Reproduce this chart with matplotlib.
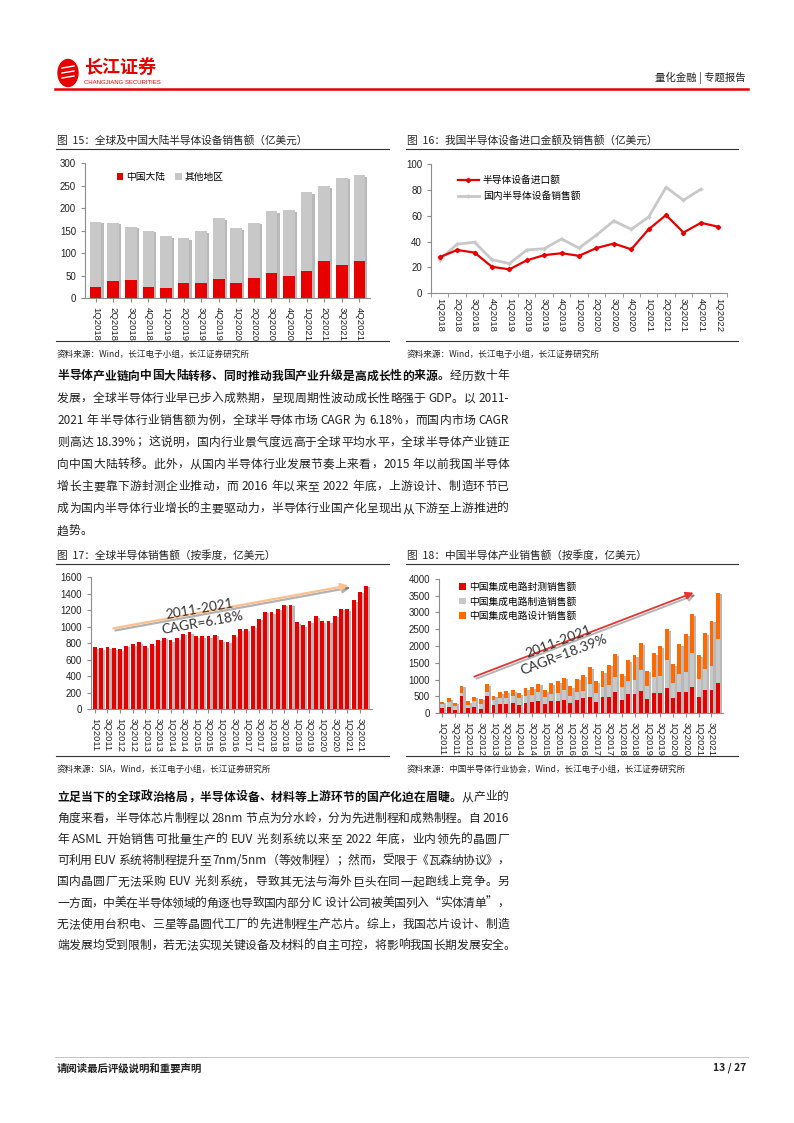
import matplotlib.pyplot as plt
import matplotlib.patheffects as pe
import numpy as np
from matplotlib.lines import Line2D
from matplotlib.patches import Ellipse

plt.rcParams['font.family'] = ['Noto Sans CJK SC', 'DejaVu Sans']

# ---- data ----
q15 = ["1Q2018", "2Q2018", "3Q2018", "4Q2018", "1Q2019", "2Q2019", "3Q2019", "4Q2019",
       "1Q2020", "2Q2020", "3Q2020", "4Q2020", "1Q2021", "2Q2021", "3Q2021", "4Q2021"]
equip_total = [170, 168, 159, 150, 138, 134, 149, 178, 156, 168, 194, 196, 236, 249, 268, 274]
equip_china = [26, 38, 40, 26, 23, 34, 35, 43, 35, 46, 56, 50, 60, 82, 73, 82]

q16 = q15 + ["1Q2022"]
import_amt = [28, 33.5, 31.5, 20.5, 18.5, 25.5, 29.5, 31, 29, 35, 38.5, 34, 49.5, 60.5, 47, 54.5, 51.5]
domestic_sales = [26, 38, 39.5, 26, 23, 33.5, 34.5, 42, 35, 45, 56, 49.5, 59, 82, 72, 80.5]

years = range(2011, 2022)
q44 = [f"{q}Q{y}" for y in years for q in (1, 2, 3, 4)]
global_semi = [750, 745, 755, 745, 730, 770, 790, 810, 765, 790, 845, 870, 840, 860, 915, 935,
               885, 885, 885, 905, 835, 820, 895, 975, 970, 1010, 1100, 1185, 1175, 1220, 1270, 1270,
               1055, 1020, 1065, 1125, 1070, 1065, 1135, 1220, 1215, 1320, 1425, 1500]

ic_test = [150, 190, 100, 500, 150, 200, 130, 520, 240, 270, 280, 310, 250, 320, 330, 360,
           280, 370, 370, 400, 300, 400, 440, 475, 345, 470, 475, 620, 400, 565, 565, 670,
           420, 595, 595, 740, 445, 640, 625, 790, 475, 690, 690, 910]
ic_fab_top = [280, 330, 220, 610, 260, 370, 290, 620, 400, 440, 460, 510, 440, 520, 550, 620,
              480, 570, 600, 700, 510, 640, 670, 880, 590, 790, 840, 1070, 770, 970, 990, 1280,
              820, 1070, 1110, 1580, 890, 1180, 1235, 1800, 1010, 1305, 1405, 2200]
ic_total = [350, 440, 320, 820, 360, 490, 430, 860, 520, 620, 650, 690, 590, 740, 780, 880,
            680, 900, 950, 1060, 800, 1030, 1140, 1365, 960, 1255, 1445, 1762, 1158, 1584, 1733, 2079,
            1267, 1782, 2000, 2505, 1455, 2059, 2356, 2950, 1723, 2376, 2752, 3584]
ic_fab = [b - a for a, b in zip(ic_test, ic_fab_top)]
ic_design = [c - b for b, c in zip(ic_fab_top, ic_total)]

RED = "#E60000"
GRAY = "#C8C8C8"
ORANGE = "#FF6A00"
W, H = 794, 1123

fig = plt.figure(figsize=(W / 100, H / 100), dpi=100)
renderer = fig.canvas.get_renderer()


def T(x, y, s, **kw):
    kw.setdefault("va", "center")
    return fig.text(x / W, 1 - y / H, s, **kw)


def hline(x0, x1, y, color, lw):
    fig.add_artist(Line2D([x0 / W, x1 / W], [1 - y / H, 1 - y / H], color=color, lw=lw))


def make_ax(left, top, right, bottom):
    ax = fig.add_axes([left / W, 1 - bottom / H, (right - left) / W, (bottom - top) / H])
    for s in ("top", "right"):
        ax.spines[s].set_visible(False)
    for s in ("left", "bottom"):
        ax.spines[s].set_color("#8C8C8C")
        ax.spines[s].set_linewidth(0.8)
    ax.tick_params(labelsize=7, colors="#8C8C8C", length=3, width=0.8, labelcolor="#222222")
    for lab in ax.get_yticklabels():
        lab.set_family(["Liberation Sans", "DejaVu Sans"])
    return ax


def xlabels(ax, pos, labels):
    ax.set_xticks(pos)
    ax.set_xticklabels(labels, rotation=270, fontsize=6.8, family=["Liberation Sans", "DejaVu Sans"])


shadow = [pe.SimplePatchShadow(offset=(1.6, -1.2), shadow_rgbFace="k", alpha=0.28), pe.Normal()]

# ---- header ----
fig.add_artist(Ellipse((68 / W, 1 - 73 / H), 20 / W, 27 / H, color=RED, transform=fig.transFigure))
for dy in (-5, 0, 5):
    fig.add_artist(Line2D([62 / W, 74 / W], [1 - (73 + dy) / H, 1 - (71 + dy) / H], color="white", lw=1))
T(84, 67, "长江证券", color=RED, fontsize=13, fontweight="bold")
T(84, 82, "CHANGJIANG SECURITIES", color=RED, fontsize=4.3, family=["Liberation Sans"])
T(746, 78, "量化金融 | 专题报告", ha="right", fontsize=7.5, color="#222222")
hline(55, 748, 89, RED, 1.8)

# ---- chart titles / frames ----
for x0, x1, title, src, ytitle, yline, ybot, ysrc in [
    (56, 389, "图  15：全球及中国大陆半导体设备销售额（亿美元）", "资料来源：Wind，长江电子小组，长江证券研究所", 140, 148.5, 341, 354),
    (406, 738, "图  16：我国半导体设备进口金额及销售额（亿美元）", "资料来源：Wind，长江电子小组，长江证券研究所", 140, 148.5, 341, 354),
    (56, 389, "图  17：全球半导体销售额（按季度，亿美元）", "资料来源：SIA，Wind，长江电子小组，长江证券研究所", 555, 564, 756, 769),
    (406, 738, "图  18：中国半导体产业销售额（按季度，亿美元）", "资料来源：中国半导体行业协会，Wind，长江电子小组，长江证券研究所", 555, 564, 756, 769),
]:
    T(x0 + 1, ytitle, title, fontsize=7.7, color="#222222")
    hline(x0, x1, yline, "#333333", 0.8)
    hline(x0, x1, ybot, "#333333", 0.8)
    T(x0 + 1, ysrc, src, fontsize=6.2, color="#222222")

# ---- chart 15 ----
ax = make_ax(85, 163.3, 370, 298.3)
x = np.arange(len(q15))
others = [t - c for t, c in zip(equip_total, equip_china)]
ax.bar(x, equip_total, 0.66, color="white", path_effects=shadow, zorder=1)
ax.bar(x, equip_china, 0.66, color=RED, label="中国大陆", zorder=2)
ax.bar(x, others, 0.66, bottom=equip_china, color=GRAY, label="其他地区", zorder=2)
ax.set_ylim(0, 300)
ax.set_yticks(range(0, 301, 50))
ax.set_xlim(-0.6, 15.6)
xlabels(ax, x, q15)
ax.legend(loc="upper left", bbox_to_anchor=(0.08, 1.0), ncol=2, frameon=False, fontsize=7,
          handlelength=0.7, handleheight=0.7, handletextpad=0.3, columnspacing=1.0)

# ---- chart 16 ----
ax = make_ax(431, 164, 727, 293.3)
x = np.arange(len(q16))
ax.plot(x[:len(domestic_sales)], domestic_sales, color=GRAY, lw=2, marker="+", ms=3, label="国内半导体设备销售额", zorder=2)
ax.plot(x, import_amt, color=RED, lw=1.6, marker="D", ms=2.2, label="半导体设备进口额", zorder=3)
ax.set_ylim(0, 100)
ax.set_yticks(range(0, 101, 20))
ax.set_xlim(-0.5, 16.5)
ax.set_xticks(np.arange(-0.5, 17, 1), minor=True)
ax.tick_params(axis="x", which="major", length=0)
ax.tick_params(axis="x", which="minor", length=3, colors="#8C8C8C")
xlabels(ax, x, q16)
h, l = ax.get_legend_handles_labels()
ax.legend(h[::-1], l[::-1], loc="upper left", bbox_to_anchor=(0.06, 0.98), frameon=False, fontsize=7,
          handlelength=2.2, handletextpad=0.4, labelspacing=0.6)

# ---- chart 17 ----
ax = make_ax(91, 577.3, 372, 709.3)
x = np.arange(len(q44))
ax.bar(x, global_semi, 0.6, color=RED, path_effects=shadow)
ax.set_ylim(0, 1600)
ax.set_yticks(range(0, 1601, 200))
ax.set_xlim(-0.6, 43.9)
xlabels(ax, x[::2], q44[::2])
ax.annotate("", xy=(40.6, 1507), xytext=(2.5, 975),
            arrowprops=dict(arrowstyle="-|>", color="#FAC08F", lw=1.6, mutation_scale=11,
                            path_effects=[pe.SimpleLineShadow(offset=(1.5, -1.5), alpha=0.3), pe.Normal()]))
ax.text(16.8, 1130, "2011-2021\nCAGR=6.18%", rotation=10, rotation_mode="anchor", ha="center", va="center",
        fontsize=9.8, color="#333333", family=["Lato", "DejaVu Sans"], linespacing=1.25)

# ---- chart 18 ----
ax = make_ax(439, 578.7, 723, 713.3)
x = np.arange(len(q44))
ax.bar(x, ic_total, 0.6, color="white", path_effects=shadow, zorder=1)
ax.bar(x, ic_test, 0.6, color=RED, label="中国集成电路封测销售额", zorder=2)
ax.bar(x, ic_fab, 0.6, bottom=ic_test, color=GRAY, label="中国集成电路制造销售额", zorder=2)
ax.bar(x, ic_design, 0.6, bottom=ic_fab_top, color=ORANGE, label="中国集成电路设计销售额", zorder=2)
ax.set_ylim(0, 4000)
ax.set_yticks(range(0, 4001, 500))
ax.set_xlim(-0.5, 43.8)
xlabels(ax, x[::2], q44[::2])
ax.legend(loc="upper left", bbox_to_anchor=(0.04, 1.04), frameon=False, fontsize=7,
          handlelength=0.7, handleheight=0.7, handletextpad=0.3, labelspacing=0.45)
ax.annotate("", xy=(39.6, 3614), xytext=(4.6, 1060),
            arrowprops=dict(arrowstyle="-|>", color="#E8332E", lw=1.3, mutation_scale=11,
                            path_effects=[pe.SimpleLineShadow(offset=(1.5, -1.5), alpha=0.3), pe.Normal()]))
ax.text(18.5, 1930, "2011-2021\nCAGR=18.39%", rotation=21, rotation_mode="anchor", ha="center", va="center",
        fontsize=10, color="#333333", family=["Lato", "DejaVu Sans"], linespacing=1.25)

# ---- body text (justified line by line) ----
FS = 8.5
X0, X1 = 57, 509


def tokens(s):
    out, buf = [], ""
    for ch in s:
        if ch.isascii() and ch != " ":
            buf += ch
        else:
            if buf:
                out.append(buf)
                buf = ""
            out.append(ch)
    if buf:
        out.append(buf)
    return out


def draw_line(parts, y, justify):
    items = []
    for txt, weight in parts:
        for tk in tokens(txt):
            t = T(0, y, tk, fontsize=FS, fontweight=weight, color="#111111" if weight == "bold" else "#222222")
            w = t.get_window_extent(renderer).width if tk != " " else FS * 0.3
            items.append((t, w))
    total = sum(w for _, w in items)
    gap = (X1 - X0 - total) / (len(items) - 1) if justify and len(items) > 1 else 0
    xx = X0
    for t, w in items:
        t.set_x(xx / W)
        xx += w + gap


def para(lines, y0, step):
    for i, line in enumerate(lines):
        parts = line if isinstance(line, list) else [(line, "normal")]
        draw_line(parts, y0 + i * step, i < len(lines) - 1)


para([
    [("半导体产业链向中国大陆转移、同时推动我国产业升级是高成长性的来源。", "bold"), ("经历数十年", "normal")],
    "发展，全球半导体行业早已步入成熟期，呈现周期性波动成长性略强于 GDP。以 2011-",
    "2021 年半导体行业销售额为例，全球半导体市场 CAGR 为 6.18%，而国内市场 CAGR",
    "则高达 18.39%；这说明，国内行业景气度远高于全球平均水平，全球半导体产业链正",
    "向中国大陆转移。此外，从国内半导体行业发展节奏上来看，2015 年以前我国半导体",
    "增长主要靠下游封测企业推动，而 2016 年以来至 2022 年底，上游设计、制造环节已",
    "成为国内半导体行业增长的主要驱动力，半导体行业国产化呈现出从下游至上游推进的",
    "趋势。",
], 376, 22.1)

para([
    [("立足当下的全球政治格局，半导体设备、材料等上游环节的国产化迫在眉睫。", "bold"), ("从产业的", "normal")],
    "角度来看，半导体芯片制程以 28nm 节点为分水岭，分为先进制程和成熟制程。自 2016",
    "年 ASML 开始销售可批量生产的 EUV 光刻系统以来至 2022 年底，业内领先的晶圆厂",
    "可利用 EUV 系统将制程提升至 7nm/5nm（等效制程）；然而，受限于《瓦森纳协议》，",
    "国内晶圆厂无法采购 EUV 光刻系统，导致其无法与海外巨头在同一起跑线上竞争。另",
    "一方面，中美在半导体领域的角逐也导致国内部分 IC 设计公司被美国列入“实体清单”，",
    "无法使用台积电、三星等晶圆代工厂的先进制程生产芯片。综上，我国芯片设计、制造",
    "端发展均受到限制，若无法实现关键设备及材料的自主可控，将影响我国长期发展安全。",
], 797, 21.2)
# last line of the second paragraph is full width in the reference too
# ---- footer ----
hline(55, 748, 1057, "#BBBBBB", 0.6)
T(57, 1068, "请阅读最后评级说明和重要声明", fontsize=7.5, fontweight="bold", color="#222222")
T(746, 1068, "13 / 27", ha="right", fontsize=7.5, fontweight="bold", color="#222222")

fig.savefig("out.png", dpi=100)
